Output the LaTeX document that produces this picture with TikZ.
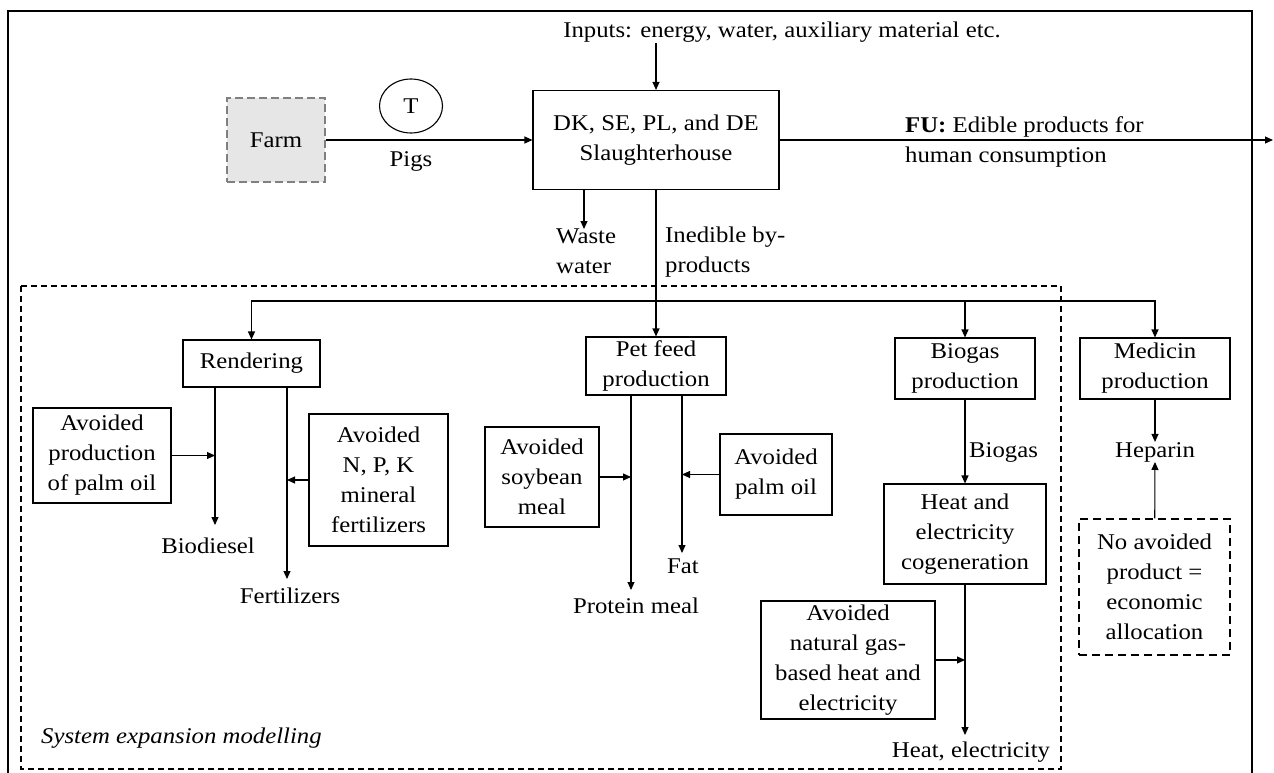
\documentclass[tikz,border=0pt]{standalone}
\usepackage{fontspec}
\setmainfont{Liberation Serif}[FakeStretch=1.1]
\usetikzlibrary{arrows.meta,shapes.geometric}
\definecolor{farmgray}{RGB}{230,230,230}

\begin{document}
\begin{tikzpicture}[x=1pt,y=-1pt,
    font=\fontsize{22.5}{30}\selectfont,
    proc/.style={draw,line width=1.1pt,align=center,inner sep=2pt},
    lbl/.style={inner sep=0pt,align=left},
    flow/.style={line width=1.1pt,-{Triangle[length=8pt,width=7pt]}}]
  \useasboundingbox (0,0) rectangle (1274,773);
  % frames
  \draw[line width=1.1pt] (8,11) rectangle (1252,780);
  \draw[line width=1.1pt,dash pattern=on 6pt off 4pt] (21,286) rectangle (1061,769);
  \node[lbl,anchor=base west,font=\fontsize{22.5}{30}\selectfont\itshape] (sysexp) at (41,743) {System expansion modelling};

  % top row
  \node[proc,draw=gray,dash pattern=on 8pt off 4pt,fill=farmgray,
        minimum width=98pt,minimum height=84pt] (farm) at (276,140) {Farm};
  \node[draw,ellipse,line width=1.1pt,minimum width=63pt,minimum height=54pt,inner sep=0pt] (transport) at (411,106) {T};
  \node[proc,minimum width=246pt,minimum height=99pt] (slaughter) at (656,140) {DK, SE, PL, and DE\\Slaughterhouse};
  \node[lbl,anchor=base] (inputs) at (782,38) {Inputs: energy, water, auxiliary material etc.};
  \node[lbl,anchor=base] (pigs) at (411,166) {Pigs};
  \node[lbl,anchor=north west] (fu) at (905,116) {\textbf{FU:} Edible products for\\human consumption};
  \node[lbl,anchor=north west] (ww) at (556,229) {Waste\\water};
  \node[lbl,anchor=north west] (inedible) at (665,227) {Inedible by-\\products};

  % by-product routes
  \node[proc,minimum width=137pt,minimum height=47pt] (rendering) at (251.5,363.5) {Rendering};
  \node[proc,minimum width=140pt,minimum height=58pt] (petfeed) at (656,366) {Pet feed\\production};
  \node[proc,minimum width=140pt,minimum height=61pt] (biogas) at (965,368.5) {Biogas\\production};
  \node[proc,minimum width=150pt,minimum height=61pt] (medicin) at (1155,368.5) {Medicin\\production};

  % avoided products
  \node[proc,minimum width=138pt,minimum height=95pt] (avpalm) at (102,455.5) {Avoided\\production\\of palm oil};
  \node[proc,minimum width=139pt,minimum height=132pt] (avnpk) at (378.5,480) {Avoided\\N, P, K\\mineral\\fertilizers};
  \node[proc,minimum width=114pt,minimum height=100pt] (avsoy) at (542,477) {Avoided\\soybean\\meal};
  \node[proc,minimum width=112pt,minimum height=81pt] (avoil) at (776,474.5) {Avoided\\palm oil};
  \node[proc,minimum width=162pt,minimum height=100pt] (chp) at (965,534) {Heat and\\electricity\\cogeneration};
  \node[proc,minimum width=174pt,minimum height=118pt] (avgas) at (848,660) {Avoided\\natural gas-\\based heat and\\electricity};
  \node[proc,dash pattern=on 8pt off 5pt,minimum width=151pt,minimum height=136pt] (noavoid) at (1154.5,587) {No avoided\\product =\\economic\\allocation};

  % outputs
  \node[lbl,anchor=base] (biodiesel) at (208,553) {Biodiesel};
  \node[lbl,anchor=base] (fertilizers) at (290,603) {Fertilizers};
  \node[lbl,anchor=base] (protein) at (636,613) {Protein meal};
  \node[lbl,anchor=base] (fat) at (683,573) {Fat};
  \node[lbl,anchor=base west] (biogaslbl) at (969,457) {Biogas};
  \node[lbl,anchor=base] (heparin) at (1155,457) {Heparin};
  \node[lbl,anchor=base] (heatel) at (971,757) {Heat, electricity};

  \coordinate (fuend) at (1273,140);
  \coordinate (split) at (656,301);
  \coordinate (wwend) at (584,229);
  \coordinate (biodend) at (215,525);
  \coordinate (fertend) at (287,579);
  \coordinate (protend) at (631,590);
  \coordinate (fatend) at (682,553);
  \coordinate (heatend) at (965,735);

  % flows
  \draw[flow] (farm) -- (slaughter);
  \draw[flow] (inputs.south -| slaughter.north) -- (slaughter);
  \draw[flow] (slaughter) -- (fuend);
  \draw[flow] (slaughter.south -| wwend) -- (wwend);
  \draw[flow] (slaughter) -- (petfeed);
  \draw[flow] (split) -| (rendering);
  \draw[flow] (split) -| (biogas);
  \draw[flow] (split) -| (medicin);
  \draw[flow] (rendering.south -| biodend) -- (biodend);
  \draw[flow] (rendering.south -| fertend) -- (fertend);
  \draw[flow] (avpalm) -- (avpalm -| biodend);
  \draw[flow] (avnpk) -- (avnpk -| fertend);
  \draw[flow] (petfeed.south -| protend) -- (protend);
  \draw[flow] (petfeed.south -| fatend) -- (fatend);
  \draw[flow] (avsoy) -- (avsoy -| protend);
  \draw[flow] (avoil) -- (avoil -| fatend);
  \draw[flow] (biogas) -- (chp);
  \draw[flow] (chp) -- (heatend);
  \draw[flow] (avgas) -- (avgas -| heatend);
  \draw[flow] (medicin) -- (heparin);
  \draw[flow] (noavoid) -- (heparin);
\end{tikzpicture}
\end{document}
